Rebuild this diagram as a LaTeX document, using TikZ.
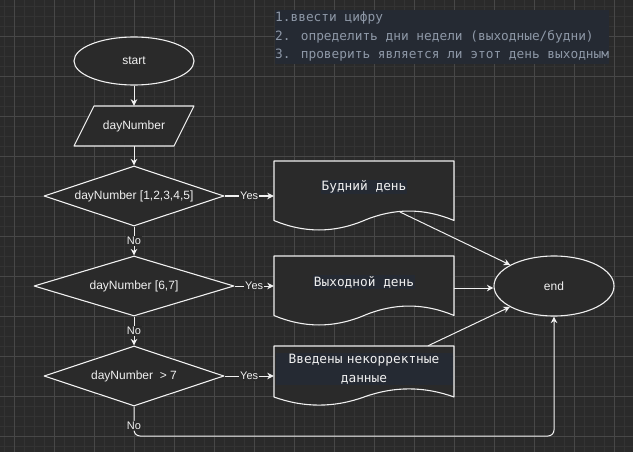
\documentclass[tikz,border=0pt]{standalone}
\usepackage{fontspec}
\setmainfont{Liberation Sans}
\newfontfamily\codefont{DejaVu Sans Mono}
\usetikzlibrary{shapes.geometric,arrows.meta}
\definecolor{canvas}{HTML}{2A2A2A}
\definecolor{minor}{HTML}{333333}
\definecolor{major}{HTML}{474747}
\definecolor{ink}{HTML}{F0F0F0}
\definecolor{note}{HTML}{252A33}
\definecolor{notetext}{HTML}{8E98A7}
\begin{document}
\begin{tikzpicture}[x=1pt,y=-1pt,>={Stealth[length=6.5pt,width=6.5pt,inset=2pt]},
	line join=round,font=\fontsize{12}{14}\selectfont,
	every node/.style={text=ink},
	box/.style={draw=ink,fill=canvas,line width=1.1pt},
	term/.style={box,ellipse,inner sep=0pt,minimum width=120,minimum height=48},
	cond/.style={box,diamond,aspect=3,inner sep=0pt,minimum width=180,minimum height=60},
	frame/.style={minimum width=180,inner sep=0pt},
	code/.style={font=\codefont\fontsize{12.8}{18.5}\selectfont},
	lbl/.style={fill=canvas,inner sep=1pt,font=\fontsize{11}{12}\selectfont},
	link/.style={->,draw=ink,line width=1pt}]
	\fill[canvas] (0,0) rectangle (633,452);
	\useasboundingbox (0,0) rectangle (633,452);
	\foreach \i in {4,14,...,624} \draw[minor] (\i,0)--(\i,452);
	\foreach \j in {6,16,...,446} \draw[minor] (0,\j)--(633,\j);
	\foreach \i in {14,54,...,614} \draw[major] (\i,0)--(\i,452);
	\foreach \j in {36,76,...,436} \draw[major] (0,\j)--(633,\j);
	\def\docshape(#1,#2,#3){\draw[box] (#1,#2)--(#1+180,#2)--(#1+180,#2+0.85*#3)
		.. controls (#1+150,#2+0.67*#3) and (#1+120,#2+0.67*#3) .. (#1+90,#2+0.85*#3)
		.. controls (#1+60,#2+1.03*#3) and (#1+30,#2+1.03*#3) .. (#1,#2+0.85*#3)--cycle;}
	
	\node[code,fill=note,text=notetext,anchor=north west,align=left,
		minimum width=332,inner xsep=0pt,inner ysep=2pt] (plan) at (275,10)
		{1.ввести цифру\\2. определить дни недели (выходные/будни)\\3. проверить является ли этот день выходным};
	
	\node[term] (start) at (134,61) {start};
	\draw[box] (74,146)--(94,106)--(194,106)--(174,146)--cycle;
	\node[minimum width=100,minimum height=40,inner sep=0pt] (num) at (134,126) {dayNumber};
	\node[cond] (d1) at (134,196) {dayNumber [1,2,3,4,5]};
	\node[cond,minimum width=200] (d2) at (134,286) {dayNumber [6,7]};
	\node[cond] (d3) at (134,376) {dayNumber\ \ > 7};
	
	\docshape(274,161,70)
	\node[frame,minimum height=70] (weekday) at (364,196) {};
	\node[code,fill=note,inner sep=1pt] (weekdaytxt) at (364,187) {Будний день};
	\docshape(274,256,70)
	\node[frame,minimum height=70] (off) at (364,291) {};
	\node[code,fill=note,inner sep=1pt] (offtxt) at (364,282) {Выходной день};
	\docshape(274,346,60)
	\node[frame,minimum height=60] (bad) at (364,376) {};
	\node[code,fill=note,text width=174,align=center,inner sep=1.5pt] (badtxt) at (364,369) {Введены некорректные\\данные};
	
	\node[term,minimum height=60] (stop) at (554,286) {end};
	
	\draw[link] (start)--(num);
	\draw[link] (num)--(d1);
	\draw[link] (d1)--node[lbl]{No}(d2);
	\draw[link] (d2)--node[lbl]{No}(d3);
	\draw[link] (d1)--node[lbl]{Yes}(weekday);
	\draw[link] (d2)--node[lbl]{Yes}(d2 -| off.west);
	\draw[link] (d3)--node[lbl]{Yes}(bad);
	\coordinate (weekdayout) at (400,212);
	\coordinate (floor) at (0,436);
	\draw[link] (weekdayout)--(stop);
	\draw[link] ([yshift=3pt]off.east)--([yshift=3pt]off.east -| stop.west);
	\draw[link] ([xshift=64pt]bad.north)--(stop);
	\draw[link,rounded corners=6pt] (d3)--node[lbl,pos=0.65]{No}(d3 |- floor)-|(stop);
\end{tikzpicture}
\end{document}
